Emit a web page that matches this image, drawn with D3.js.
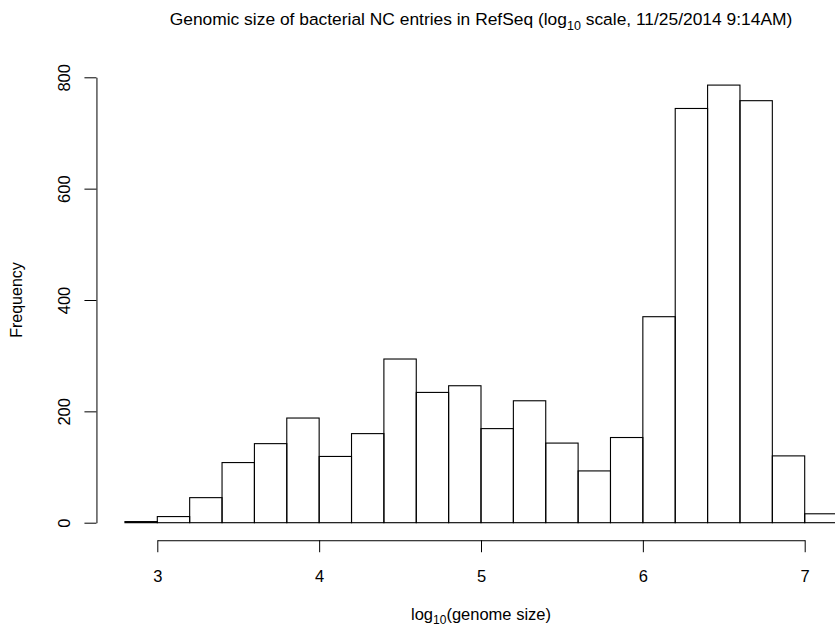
<!DOCTYPE html>
<html>
<head>
<meta charset="utf-8">
<script src="https://cdn.jsdelivr.net/npm/d3@7"></script>
<style>
  body { margin: 0; background: #fff; }
  svg { display: block; font-family: "Liberation Sans", Arial, Helvetica, sans-serif; }
  .axis text { font-size: 16.5px; fill: #000; }
  .axis path, .axis line { stroke: #000; stroke-width: 1; }
</style>
</head>
<body>
<div id="chart"></div>
<script>
// histogram bins of log10 genome size (left edges, width 0.2)
var binStarts = [2.8, 3.0, 3.2, 3.4, 3.6, 3.8, 4.0, 4.2, 4.4, 4.6, 4.8,
                 5.0, 5.2, 5.4, 5.6, 5.8, 6.0, 6.2, 6.4, 6.6, 6.8, 7.0];
var binWidth = 0.2;
var counts = [2, 11, 45, 108, 142, 188, 119, 160, 294, 234, 246,
              169, 219, 143, 93, 153, 370, 744, 786, 758, 120, 16];
var xTicks = [3, 4, 5, 6, 7];
var yTicks = [0, 200, 400, 600, 800];

var svgWidth = 835;
var svgHeight = 627;

var svg = d3.select("#chart")
  .append("svg")
  .attr("width", svgWidth)
  .attr("height", svgHeight);

// scales
var xScale = d3.scaleLinear().domain([3, 7]).range([157.3, 804.7]);
var yScale = d3.scaleLinear().domain([0, 800]).range([522.7, 77.3]);

// plot box edges (axes sit on these); the box runs past the right edge
var plotLeft = xScale(2.624);
var plotRight = xScale(7.376);
var plotBottom = yScale(-31.52);
var midX = (plotLeft + plotRight) / 2;

// bars
svg.append("g")
  .selectAll("rect")
  .data(binStarts)
  .enter()
  .append("rect")
  .attr("x", d => xScale(d))
  .attr("y", (d, i) => yScale(counts[i]))
  .attr("width", d => xScale(d + binWidth) - xScale(d))
  .attr("height", (d, i) => yScale(0) - yScale(counts[i]))
  .attr("fill", "none")
  .attr("stroke", "#000")
  .attr("stroke-width", 1.1);

// x axis
var xAxis = d3.axisBottom(xScale)
  .tickValues(xTicks)
  .tickSize(12)
  .tickSizeOuter(0)
  .tickPadding(18.3)
  .tickFormat(d3.format("d"));

svg.append("g")
  .attr("class", "axis")
  .attr("transform", "translate(0," + plotBottom + ")")
  .call(xAxis);

// y axis with labels turned parallel to the axis
var yAxis = d3.axisLeft(yScale)
  .tickValues(yTicks)
  .tickSize(12)
  .tickSizeOuter(0)
  .tickFormat(d3.format("d"));

var yG = svg.append("g")
  .attr("class", "axis")
  .attr("transform", "translate(" + plotLeft + ",0)")
  .call(yAxis);

yG.selectAll(".tick text")
  .attr("x", 0)
  .attr("dy", 0)
  .attr("transform", "translate(-26.5,0) rotate(-90)")
  .style("text-anchor", "middle");

yG.selectAll("path, line").attr("fill", "none");

// title
var title = svg.append("text")
  .attr("x", midX)
  .attr("y", 25)
  .attr("text-anchor", "middle")
  .style("font-size", "17.4px");
title.append("tspan").text("Genomic size of bacterial NC entries in RefSeq (log");
title.append("tspan").attr("dy", 5).style("font-size", "12.5px").text("10");
title.append("tspan").attr("dy", -5).text(" scale, 11/25/2014 9:14AM)");

// x label
var xlab = svg.append("text")
  .attr("x", midX)
  .attr("y", 620)
  .attr("text-anchor", "middle")
  .style("font-size", "16.5px");
xlab.append("tspan").text("log");
xlab.append("tspan").attr("dy", 4).style("font-size", "12px").text("10");
xlab.append("tspan").attr("dy", -4).text("(genome size)");

// y label
svg.append("text")
  .attr("transform", "translate(22," + yScale(400) + ") rotate(-90)")
  .attr("text-anchor", "middle")
  .style("font-size", "16px")
  .text("Frequency");
</script>
</body>
</html>
